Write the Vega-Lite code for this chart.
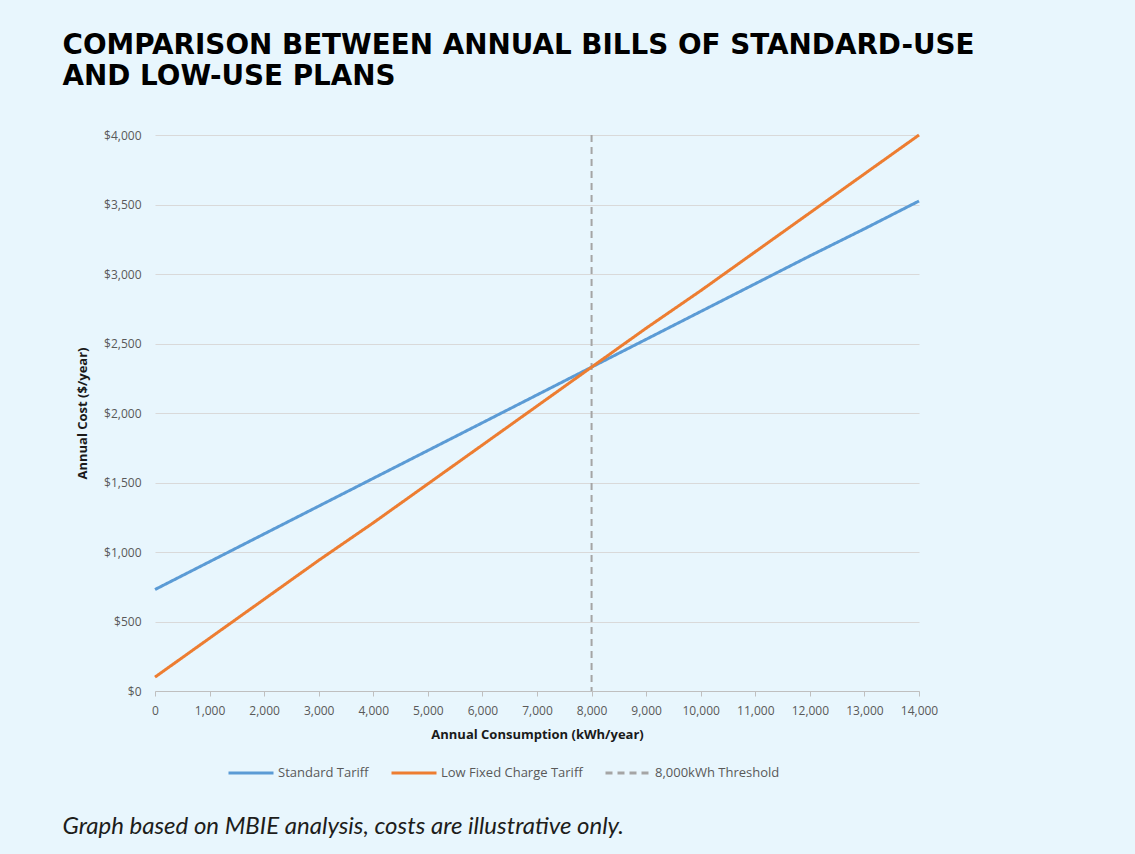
{
  "$schema": "https://vega.github.io/schema/vega-lite/v6.json",
  "background": "#E8F6FD",
  "padding": {"left": 62, "top": 32, "right": 170, "bottom": 22},
  "title": {
    "text": "Graph based on MBIE analysis, costs are illustrative only.",
    "orient": "bottom",
    "anchor": "start",
    "frame": "bounds",
    "font": "Lato",
    "fontSize": 24,
    "fontStyle": "italic",
    "fontWeight": "normal",
    "color": "#1d1d1b",
    "offset": 35
  },
  "config": {
    "view": {"stroke": null},
    "axis": {
      "labelFont": "Open Sans",
      "labelFontSize": 12,
      "labelColor": "#595959",
      "titleFont": "Open Sans",
      "titleFontSize": 13,
      "titleFontWeight": "bold",
      "titleColor": "#1a1a1a"
    },
    "legend": {
      "labelFont": "Open Sans",
      "labelFontSize": 13,
      "labelColor": "#595959",
      "symbolType": "stroke",
      "symbolSize": 2025,
      "symbolStrokeWidth": 3,
      "labelOffset": 3,
      "columnPadding": 16
    }
  },
  "vconcat": [
    {
      "width": 764,
      "height": 556,
      "title": {
        "text": ["COMPARISON BETWEEN ANNUAL BILLS OF STANDARD-USE", "AND LOW-USE PLANS"],
        "anchor": "start",
        "frame": "bounds",
        "dx": -14,
        "font": "DejaVu Sans",
        "fontSize": 27.8,
        "fontWeight": "bold",
        "lineHeight": 31,
        "color": "#000000",
        "offset": 38
      },
      "layer": [
        {
          "data": {"values": [{"kwh": 8000, "series": "8,000kWh Threshold"}]},
          "mark": {"type": "rule", "strokeWidth": 2},
          "encoding": {
            "x": {"field": "kwh", "type": "quantitative", "scale": {"domain": [0, 14000], "nice": false}},
            "color": {"field": "series", "type": "nominal"},
            "strokeDash": {"field": "series", "type": "nominal"}
          }
        },
        {
          "data": {"values": [
            {"kwh": 0, "cost": 730, "series": "Standard Tariff"},
            {"kwh": 1000, "cost": 930, "series": "Standard Tariff"},
            {"kwh": 2000, "cost": 1130, "series": "Standard Tariff"},
            {"kwh": 3000, "cost": 1330, "series": "Standard Tariff"},
            {"kwh": 4000, "cost": 1530, "series": "Standard Tariff"},
            {"kwh": 5000, "cost": 1730, "series": "Standard Tariff"},
            {"kwh": 6000, "cost": 1930, "series": "Standard Tariff"},
            {"kwh": 7000, "cost": 2130, "series": "Standard Tariff"},
            {"kwh": 8000, "cost": 2330, "series": "Standard Tariff"},
            {"kwh": 9000, "cost": 2530, "series": "Standard Tariff"},
            {"kwh": 10000, "cost": 2730, "series": "Standard Tariff"},
            {"kwh": 11000, "cost": 2930, "series": "Standard Tariff"},
            {"kwh": 12000, "cost": 3130, "series": "Standard Tariff"},
            {"kwh": 13000, "cost": 3325, "series": "Standard Tariff"},
            {"kwh": 14000, "cost": 3525, "series": "Standard Tariff"},
            {"kwh": 0, "cost": 100, "series": "Low Fixed Charge Tariff"},
            {"kwh": 1000, "cost": 380, "series": "Low Fixed Charge Tariff"},
            {"kwh": 2000, "cost": 660, "series": "Low Fixed Charge Tariff"},
            {"kwh": 3000, "cost": 940, "series": "Low Fixed Charge Tariff"},
            {"kwh": 4000, "cost": 1210, "series": "Low Fixed Charge Tariff"},
            {"kwh": 5000, "cost": 1490, "series": "Low Fixed Charge Tariff"},
            {"kwh": 6000, "cost": 1770, "series": "Low Fixed Charge Tariff"},
            {"kwh": 7000, "cost": 2050, "series": "Low Fixed Charge Tariff"},
            {"kwh": 8000, "cost": 2330, "series": "Low Fixed Charge Tariff"},
            {"kwh": 9000, "cost": 2610, "series": "Low Fixed Charge Tariff"},
            {"kwh": 10000, "cost": 2880, "series": "Low Fixed Charge Tariff"},
            {"kwh": 11000, "cost": 3160, "series": "Low Fixed Charge Tariff"},
            {"kwh": 12000, "cost": 3440, "series": "Low Fixed Charge Tariff"},
            {"kwh": 13000, "cost": 3720, "series": "Low Fixed Charge Tariff"},
            {"kwh": 14000, "cost": 4000, "series": "Low Fixed Charge Tariff"}
          ]},
          "mark": {"type": "line", "strokeWidth": 3},
          "encoding": {
            "x": {
              "field": "kwh", "type": "quantitative",
              "scale": {"domain": [0, 14000], "nice": false},
              "axis": {
                "title": "Annual Consumption (kWh/year)",
                "values": [0, 1000, 2000, 3000, 4000, 5000, 6000, 7000, 8000, 9000, 10000, 11000, 12000, 13000, 14000],
                "format": ",.0f",
                "grid": false,
                "domainColor": "#BFBFBF",
                "tickColor": "#BFBFBF",
                "tickSize": 5,
                "labelPadding": 9,
                "labelFlush": false,
                "labelOverlap": false,
                "titlePadding": 12
              }
            },
            "y": {
              "field": "cost", "type": "quantitative",
              "scale": {"domain": [0, 4000], "nice": false},
              "axis": {
                "title": "Annual Cost ($/year)",
                "values": [0, 500, 1000, 1500, 2000, 2500, 3000, 3500, 4000],
                "format": "$,.0f",
                "domain": false,
                "ticks": false,
                "gridColor": "#D9D9D9",
                "labelPadding": 14,
                "titlePadding": 14
              }
            },
            "color": {
              "field": "series", "type": "nominal",
              "scale": {
                "domain": ["Standard Tariff", "Low Fixed Charge Tariff", "8,000kWh Threshold"],
                "range": ["#5B9BD5", "#ED7D31", "#A5A5A5"]
              },
              "legend": {"title": null, "orient": "none", "direction": "horizontal", "legendX": 72, "legendY": 614}
            },
            "strokeDash": {
              "field": "series", "type": "nominal",
              "scale": {
                "domain": ["Standard Tariff", "Low Fixed Charge Tariff", "8,000kWh Threshold"],
                "range": [[1, 0], [1, 0], [7, 5]]
              },
              "legend": {"title": null, "orient": "none", "direction": "horizontal", "legendX": 72, "legendY": 614}
            }
          }
        }
      ]
    }
  ]
}
